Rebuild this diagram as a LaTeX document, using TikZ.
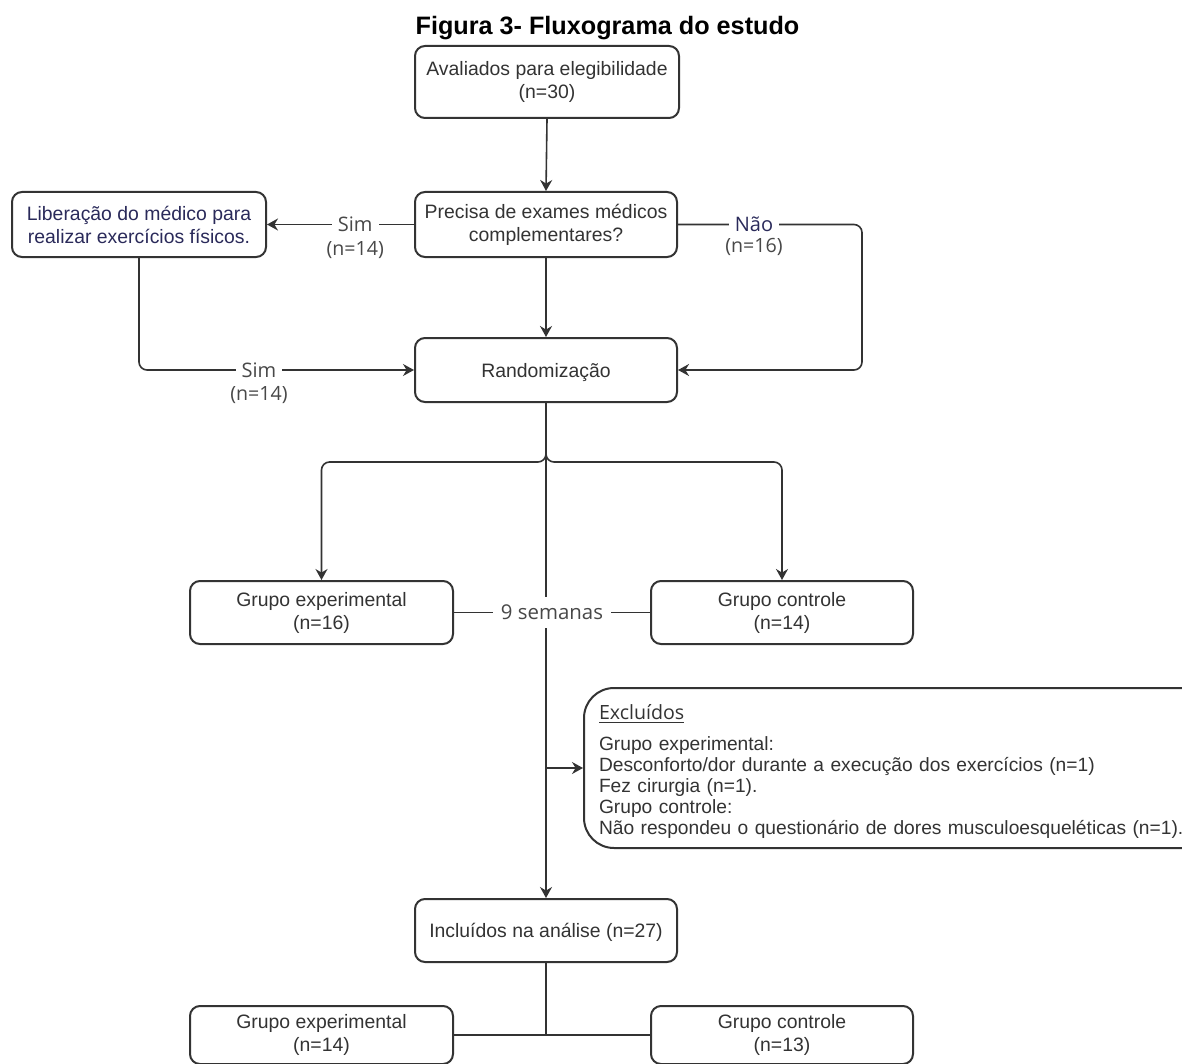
\documentclass[tikz,border=0pt]{standalone}
\usepackage{fontspec}
\setmainfont{Liberation Sans}
\newfontfamily\labfont{Open Sans}
\usetikzlibrary{arrows.meta}
\definecolor{ln}{HTML}{333333}
\definecolor{tx}{HTML}{333333}
\definecolor{navy}{HTML}{2A2A5A}
\definecolor{lab}{HTML}{484848}
\begin{document}
\begin{tikzpicture}[x=0.5pt,y=-0.5pt,
 box/.style={draw=ln, line width=1pt, rounded corners=5pt, align=center, text=tx,
   font=\fontsize{9.7}{11.5}\selectfont, inner sep=0pt, execute at begin node={\rule{0pt}{9.4pt}}},
 conn/.style={draw=ln, line width=0.8pt},
 arr/.style={conn, -{Stealth[length=5.5pt,width=6pt]}},
 lbl/.style={font=\labfont\fontsize{10}{11}\selectfont, text=lab, fill=white, inner xsep=3pt, inner ysep=1pt},
 sublbl/.style={font=\labfont\fontsize{9.8}{11}\selectfont, text=lab, inner sep=0pt},
]
\useasboundingbox (0,0) rectangle (1182,1064);
\clip (0,0) rectangle (1182,1064);
\fill[white] (0,0) rectangle (1182,1064);

\node[font=\bfseries\fontsize{12.6}{14}\selectfont] (title) at (607.5,28) {Figura 3- Fluxograma do estudo};

\node[box, minimum width=132pt, minimum height=36pt] (aval) at (547,82) {Avaliados para elegibilidade\\(n=30)};
\node[box, minimum width=131pt, minimum height=32.5pt] (prec) at (546,224.5) {Precisa de exames médicos\\complementares?};
\node[box, minimum width=127pt, minimum height=32.5pt, text=navy] (lib) at (139,224.5) {Liberação do médico para\\realizar exercícios físicos.};
\node[box, minimum width=131pt, minimum height=32pt] (rand) at (546,370) {Randomização};
\node[box, minimum width=131.5pt, minimum height=31.5pt] (ge1) at (321.5,612.5) {Grupo experimental\\(n=16)};
\node[box, minimum width=131pt, minimum height=31.5pt] (gc1) at (782,612.5) {Grupo controle\\(n=14)};
\node[box, minimum width=131pt, minimum height=31.5pt] (incl) at (546,930.5) {Incluídos na análise (n=27)};
\node[box, minimum width=131.5pt, minimum height=29pt] (ge2) at (321.5,1035) {Grupo experimental\\(n=14)};
\node[box, minimum width=131pt, minimum height=29pt] (gc2) at (782,1035) {Grupo controle\\(n=13)};

\node[draw=ln, line width=1pt, rounded corners=15pt, text width=300pt, inner xsep=7.5pt,
  minimum height=80pt, align=left, font=\fontsize{9.6}{10.5}\selectfont, text=tx, anchor=west,
  execute at begin node={\rule{0pt}{11pt}}] (exc) at (583,768)
  {{\labfont\fontsize{9.8}{10.5}\selectfont\underline{Excluídos}}\\[5pt]
   Grupo experimental:\\
   Desconforto/dor durante a execução dos exercícios (n=1)\\
   Fez cirurgia (n=1).\\
   Grupo controle:\\
   Não respondeu o questionário de dores musculoesqueléticas (n=1).};

% connectors
\draw[arr] (aval.south) -- (prec.north);
\draw[arr] (prec.south) -- (rand.north);
\draw[arr] (prec.west) -- (lib.east) node[lbl, pos=0.4] (sim1) {Sim};
\node[sublbl, anchor=north] (n1) at ([yshift=-3pt]sim1.south) {(n=14)};

\coordinate (nr) at (862,224.5);
\draw[arr, rounded corners=4pt] (prec.east) -- (nr) |- (rand.east);
\node[lbl, text=navy] (nao) at (754,224.5) {Não};
\node[sublbl, anchor=north] (n2) at ([yshift=-2pt]nao.south) {(n=16)};

\draw[arr, rounded corners=4pt] (lib.south) |- (rand.west);
\node[lbl] (sim2) at (259,370) {Sim};
\node[sublbl, anchor=north] (n3) at ([yshift=-3pt]sim2.south) {(n=14)};

\coordinate (split) at (546,462);
\draw[arr] (rand.south) -- (incl.north);
\draw[arr, rounded corners=4pt] (rand.south) -- (split) -| (ge1.north);
\draw[arr, rounded corners=4pt] (rand.south) -- (split) -| (gc1.north);
\draw[conn] (ge1.east) -- (gc1.west) node[lbl, pos=0.5, inner xsep=4pt, inner ysep=4pt, font=\labfont\fontsize{10.2}{11}\selectfont] (sem) {9 semanas};

\coordinate (ex) at (546,768);
\draw[arr] (ex) -- (ex -| exc.west);

\coordinate (bj) at (546,1035);
\draw[conn] (incl.south) -- (bj);
\draw[conn] (ge2.east) -- (gc2.west);
\end{tikzpicture}
\end{document}
